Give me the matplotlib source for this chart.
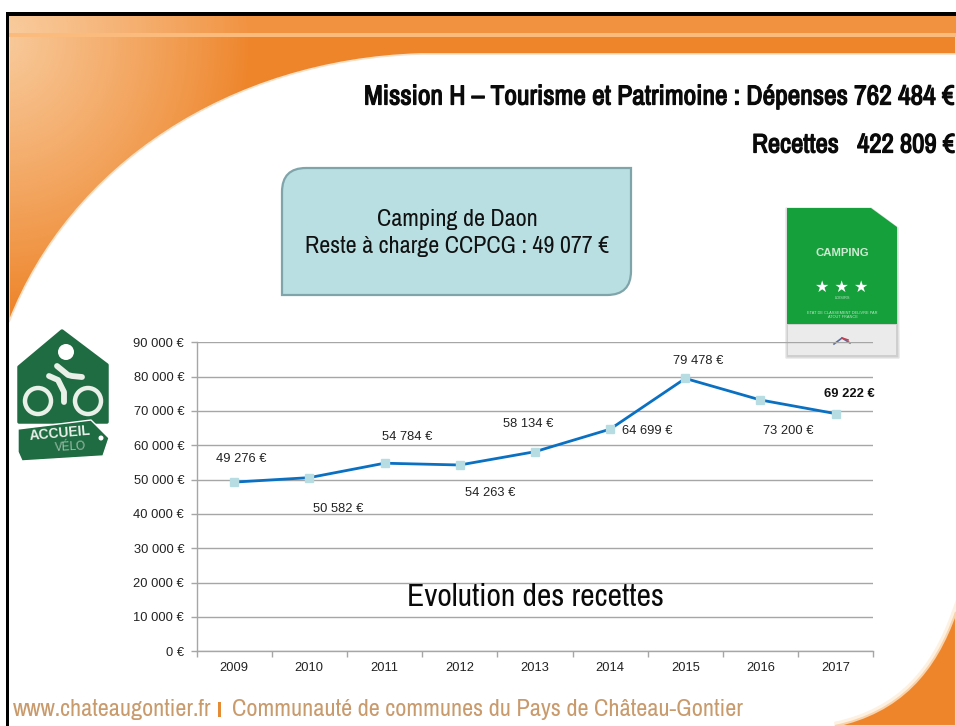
import numpy as np
import matplotlib
matplotlib.use("Agg")
import matplotlib.pyplot as plt
import matplotlib.patheffects as pe
from matplotlib import font_manager as fm
from matplotlib.path import Path
from matplotlib.patches import PathPatch, Polygon, Circle, Rectangle

# ---- data ----
years = ["2009", "2010", "2011", "2012", "2013", "2014", "2015", "2016", "2017"]
recettes = [49276, 50582, 54784, 54263, 58134, 64699, 79478, 73200, 69222]
value_labels = ["49 276 €", "50 582 €", "54 784 €", "54 263 €", "58 134 €",
                "64 699 €", "79 478 €", "73 200 €", "69 222 €"]
y_ticks = [0, 10000, 20000, 30000, 40000, 50000, 60000, 70000, 80000, 90000]
y_tick_labels = ["0 €", "10 000 €", "20 000 €", "30 000 €", "40 000 €",
                 "50 000 €", "60 000 €", "70 000 €", "80 000 €", "90 000 €"]
title_line1 = "Mission H – Tourisme et Patrimoine : Dépenses 762 484 €"
title_line2 = "Recettes   422 809 €"
box_text = "Camping de Daon\nReste à charge CCPCG : 49 077 €"
chart_title = "Evolution des recettes"
footer = "www.chateaugontier.fr"
footer2 = "Communauté de communes du Pays de Château-Gontier"

# ---- style ----
W, H = 956, 726
plt.rcParams["font.family"] = ["Liberation Sans", "DejaVu Sans"]
installed = {f.name for f in fm.fontManager.ttflist}
NARROW = "Liberation Sans"
for cand in ("Liberation Sans Narrow", "Archivo Narrow", "Arimo Narrow", "PT Sans Narrow", "Roboto Condensed"):
    if cand in installed:
        NARROW = cand
        break
ORANGE = "#EE852B"
fig = plt.figure(figsize=(W / 100, H / 100), dpi=100, facecolor="white")
renderer = fig.canvas.get_renderer()


def fit(txt, width_px):
    """Scale a text's font size so that it spans the given width."""
    w = txt.get_window_extent(renderer).width
    txt.set_fontsize(txt.get_fontsize() * width_px / w)
    return txt


# ---- slide background, in pixel coordinates ----
bg = fig.add_axes([0, 0, 1, 1])
bg.set_xlim(0, W)
bg.set_ylim(H, 0)
bg.axis("off")

sw = Path([(9, 16), (956, 16), (956, 54), (420, 54), (230, 60), (70, 165), (9, 322), (9, 16)],
          [Path.MOVETO, Path.LINETO, Path.LINETO, Path.LINETO,
           Path.CURVE4, Path.CURVE4, Path.CURVE4, Path.CLOSEPOLY])
bg.add_patch(PathPatch(sw, fc=ORANGE, ec="#F9E0C6", lw=1.2, zorder=1))
bg.add_patch(Rectangle((9, 16), W, 17, fc="#F19240", ec="none", zorder=1.5))

xx, yy = np.meshgrid(np.linspace(0, W, 480), np.linspace(0, H, 363))
alpha = np.clip(1 - np.sqrt((xx / 250) ** 2 + ((yy - 40) / 270) ** 2), 0, 1) ** 0.9 * 0.75
rgba = np.zeros(xx.shape + (4,))
rgba[..., :3] = matplotlib.colors.to_rgb("#FCE2C2")
rgba[..., 3] = alpha
im = bg.imshow(rgba, extent=(0, W, H, 0), aspect="auto", zorder=2, interpolation="bilinear")
im.set_clip_path(PathPatch(sw, transform=bg.transData))
bg.set_xlim(0, W)
bg.set_ylim(H, 0)

bg.add_patch(Rectangle((9, 33), W, 3.5, fc="#FBBB7C", ec="none", zorder=3))

# top and left black frame
bg.add_patch(Rectangle((6, 12), W, 4, fc="black", ec="none", zorder=5))
bg.add_patch(Rectangle((6, 12), 3.5, H, fc="black", ec="none", zorder=5))

# bottom right swoosh
br = Path([(956, 612), (935, 672), (900, 712), (835, 726), (956, 726), (956, 612)],
          [Path.MOVETO, Path.CURVE4, Path.CURVE4, Path.CURVE4, Path.LINETO, Path.CLOSEPOLY])
bg.add_patch(PathPatch(br, fc=ORANGE, ec="#FDF1E2", lw=6, zorder=0.8))
bg.add_patch(PathPatch(br, fc=ORANGE, ec="#F8D3AC", lw=1.5, zorder=1))

# callout box: rounded top-left and bottom-right corners
r = 24
box = Path([(282 + r, 168), (631, 168), (631, 295 - r), (631, 295), (631 - r, 295),
            (282, 295), (282, 168 + r), (282, 168), (282 + r, 168), (282 + r, 168)],
           [Path.MOVETO, Path.LINETO, Path.LINETO, Path.CURVE3, Path.CURVE3,
            Path.LINETO, Path.LINETO, Path.CURVE3, Path.CURVE3, Path.CLOSEPOLY])
bg.add_patch(PathPatch(box, fc="#B9DFE3", ec="#7FA4AA", lw=1.6, zorder=3))

# camping panel
bg.add_patch(Polygon([(786, 208), (871, 208), (898, 228), (899, 358), (786, 358)],
                     closed=True, fc="#CFCFCF", ec="#E4E4E4", lw=1, zorder=3))
bg.add_patch(Polygon([(787, 208), (871, 208), (897, 227), (897, 324), (787, 324)],
                     closed=True, fc="#16A03C", ec="none", zorder=4))
bg.add_patch(Rectangle((788, 325), 108, 30, fc="#EBEBEB", ec="none", zorder=4))
bg.text(842.5, 253, "CAMPING", color="#CFE9D2", fontsize=8.2, fontweight="bold",
        ha="center", va="center", zorder=6)
bg.text(842, 287, "★ ★ ★", color="white", fontsize=11.5, ha="center", va="center",
        zorder=6, family="DejaVu Sans")
bg.text(842.5, 298, "LOISIRS", color="#BFE5C8", fontsize=2.8, ha="center", va="center", zorder=6)
bg.text(842.5, 315, "ETAT DE CLASSEMENT DELIVRE PAR\nATOUT FRANCE", color="#BFE5C8", fontsize=2.8,
        ha="center", va="center", zorder=6)
bg.plot([834, 842, 850], [344, 338, 343], color="#5A6C9E", lw=1.2, zorder=6)
bg.plot([842, 848], [338, 340], color="#C04050", lw=1.2, zorder=6)

# accueil velo logo
GREEN = "#1F6B42"
bg.add_patch(Polygon([(62, 331), (107, 365), (107, 422), (19, 422), (19, 367)],
                     closed=True, fc=GREEN, ec=GREEN, lw=2.5, joinstyle="round", zorder=3))
bg.add_patch(Polygon([(18, 429), (91, 420), (109, 438), (103, 456), (22, 461), (18, 452)],
                     closed=True, fc=GREEN, ec="white", lw=1, joinstyle="round", zorder=4))
for cx in (38, 88):
    bg.add_patch(Circle((cx, 401), 13, fc="none", ec="#E8F0E8", lw=3.2, zorder=5))
bg.add_patch(Circle((66, 352), 8, fc="white", ec="none", zorder=5))
bg.plot([49, 58, 64, 64], [376, 380, 392, 402], color="#E8F0E8", lw=4.2,
        solid_capstyle="round", zorder=5)
bg.plot([57, 68, 72, 82], [366, 375, 376, 377], color="#E8F0E8", lw=4.2, solid_capstyle="round", zorder=5)
bg.add_patch(Circle((101, 438), 2.5, fc="white", ec="none", zorder=5))
bg.text(60, 433, "ACCUEIL", color="#E8F0E8", fontsize=10, fontweight="bold", rotation=5,
        ha="center", va="center", zorder=6)
bg.text(70, 447, "VÉLO", color="#9DBFA8", fontsize=8.5, rotation=3,
        ha="center", va="center", zorder=6)

# footer
fit(bg.text(13, 709, footer, color="#C99A6C", fontsize=15, ha="left", va="center", zorder=6,
            family=NARROW), 199)
bg.add_patch(Rectangle((218, 702), 3.5, 15, fc="#E58A35", ec="none", zorder=6))
fit(bg.text(232, 709, footer2, color="#C99A6C", fontsize=15, ha="left", va="center", zorder=6,
            family=NARROW), 511)

# ---- chart ----
L, R, T, B = 196.5, 873.3, 342.3, 651.3
ax = fig.add_axes([L / W, 1 - B / H, (R - L) / W, (B - T) / H], zorder=3)
ax.patch.set_alpha(0)
x = np.arange(len(years)) + 0.5
ax.set_xlim(0, len(years))
ax.set_ylim(0, 90000)

GRID = "#A6A6A6"
ax.set_yticks(y_ticks, y_tick_labels, fontsize=9.3, color="#222222")
ax.set_xticks(np.arange(len(years) + 1), [""] * (len(years) + 1))
ax.set_xticks(x, years, minor=True, fontsize=9.3, color="#222222")
ax.tick_params(axis="y", length=4, width=1, color=GRID, pad=5)
ax.tick_params(axis="x", which="major", length=4, width=1, color=GRID, direction="out")
ax.tick_params(axis="x", which="minor", length=0, pad=8)
ax.grid(axis="y", color=GRID, lw=1)
ax.set_axisbelow(True)
for s in ("top", "right"):
    ax.spines[s].set_visible(False)
for s in ("left", "bottom"):
    ax.spines[s].set_color(GRID)
    ax.spines[s].set_linewidth(1)

ax.plot(x, recettes, color="#0A70C2", lw=2.0, marker="s", ms=5.8,
        mfc="#B7DDE3", mec="#B7DDE3", clip_on=False, zorder=4)

# label offsets from their point, in pixels
dx = [7.5, 28.7, 22.7, 30.4, -6.8, 37, 13, 27.5, 13.7]
dy = [23, -31.7, 26, -28.3, 27.4, -2, 17.4, -31, 20]
for i, lab in enumerate(value_labels):
    ax.annotate(lab, (x[i], recettes[i]), xytext=(dx[i] * 0.72, dy[i] * 0.72),
                textcoords="offset points", ha="center", va="center", fontsize=9.3,
                color="#111111" if i == 8 else "#222222",
                fontweight="bold" if i == 8 else "normal", zorder=5, annotation_clip=False)

# ---- slide text, above the chart ----
top = fig.add_axes([0, 0, 1, 1], zorder=5)
top.set_xlim(0, W)
top.set_ylim(H, 0)
top.axis("off")
heavy = [pe.withStroke(linewidth=0.9, foreground="#0A0A0A")]
t1 = fit(top.text(364, 97, title_line1, fontsize=17, fontweight="bold", family=NARROW,
                  ha="left", va="center", color="#0A0A0A"), 590)
t2 = fit(top.text(752, 145, title_line2, fontsize=17, fontweight="bold", family=NARROW,
                  ha="left", va="center", color="#0A0A0A"), 203)
t1.set_path_effects(heavy)
t2.set_path_effects(heavy)
fit(top.text(457, 233, box_text, fontsize=16, family=NARROW, ha="center", va="center",
             color="#111111", linespacing=1.4, multialignment="center"), 304)
fit(top.text(535, 596.5, chart_title, fontsize=22, family=NARROW, ha="center", va="center",
             color="#0A0A0A"), 257)

fig.savefig("out.png", dpi=100, facecolor="white")
